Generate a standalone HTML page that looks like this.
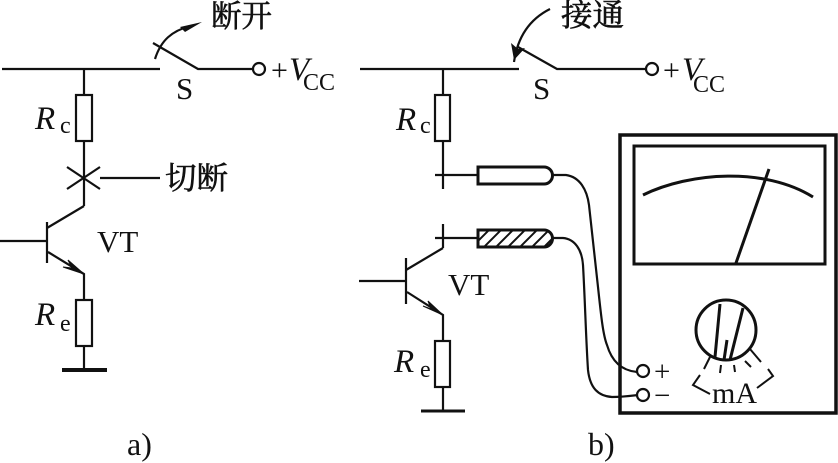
<!DOCTYPE html>
<html><head><meta charset="utf-8"><style>
html,body{margin:0;padding:0;background:#fff;width:838px;height:463px;overflow:hidden}
svg{display:block}
text{font-family:"Liberation Serif","Noto Serif CJK SC",serif;fill:#111}
.i{font-style:italic}
.z{stroke:#111;stroke-width:.6px}
</style></head><body>
<svg width="838" height="463" viewBox="0 0 838 463" xmlns="http://www.w3.org/2000/svg">
<defs><pattern id="h" width="12" height="12" patternUnits="userSpaceOnUse" patternTransform="translate(2 0)"><path d="M-3 12L12 -3M3 18L18 3" stroke="#111" stroke-width="2"/></pattern></defs>
<g fill="none" stroke="#111" stroke-width="2.200">
<!-- a) -->
<path d="M2 69H160M84 69V95M84 141V206M153 43L198 69H253"/>
<rect x="76" y="95" width="16" height="46"/>
<circle cx="259" cy="69" r="6"/>
<path d="M67 167L100 189M67 189L100 167M100 178H160"/>
<path d="M84 206L47 228M47 222V263M0 241H47M48 252L84 274V300"/>
<path d="M84 274L68 260L72 268L63 267Z" fill="#111" stroke-width="1"/>
<rect x="76" y="300" width="16" height="46"/>
<path d="M84 346V370"/>
<path d="M62 370H107" stroke-width="4"/>
<path d="M155 59C161 40 172 31 190 26"/>
<path d="M202 22L180 27L185 32Z" fill="#111" stroke="none"/>
<!-- b) -->
<path d="M360 69H519M443 69V95M443 141V189M435 175H478M518 47L557 69H646"/>
<rect x="435" y="95" width="15" height="46"/>
<circle cx="652" cy="69" r="6"/>
<path d="M550 9C532 18 518 34 514 62"/>
<path d="M514 60L511 43L518 49L525 48Z" fill="#111" stroke="none"/>
<path d="M443 224V248M435 238H478M443 248L406 270M406 258V304M359 281H406M407 292L443 315V341"/>
<path d="M443 315L428 301L431 309L423 306Z" fill="#111" stroke-width="1"/>
<rect x="435" y="341" width="15" height="46"/>
<path d="M443 387V410"/>
<path d="M421 411H465" stroke-width="3"/>
<path d="M478 167H544A8.500 8.500 0 0 1 544 184H478Z" stroke-width="3"/>
<path d="M478 230H544A8.500 8.500 0 0 1 544 247H478Z" stroke-width="3" fill="url(#h)"/>
<path d="M553 175H566C580 177 587 190 589 205L598 287C601 315 603 335 607 345C612 362 622 371 638 372"/>
<path d="M553 238H563C575 239 582 250 583 265C585 300 586 340 588 370C590 388 598 396 612 397C622 397 630 396 638 395"/>
<circle cx="643" cy="371" r="6"/>
<circle cx="643" cy="395" r="6"/>
<rect x="620" y="135" width="216" height="278" stroke-width="3.500"/>
<rect x="634" y="146" width="191" height="118" stroke-width="3"/>
<path d="M643 195C690 172 765 167 813 197" stroke-width="3"/>
<path d="M769 169L736 263" stroke-width="3"/>
<circle cx="726" cy="330" r="30" stroke-width="3"/>
<path d="M720 304L715 357M743 308L730 360" stroke-width="3"/>
<path d="M727 340L724 360" stroke-width="3"/>
<path d="M710 357L704 369M721 365L720 373M734 365L735 372M745 361L751 367M750 349L761 362" stroke-width="2"/>
<path d="M700 375L693 385L710 394M768 369L773 376L757 388" stroke-width="2"/>
</g>
<text class="z" x="211" y="27" font-size="31" textLength="61" lengthAdjust="spacingAndGlyphs">断开</text>
<text class="z" x="165" y="189" font-size="31" textLength="63" lengthAdjust="spacingAndGlyphs">切断</text>
<text class="z" x="561" y="26" font-size="31" textLength="63" lengthAdjust="spacingAndGlyphs">接通</text>
<text x="176" y="99" font-size="31">S</text>
<text x="533" y="99" font-size="31">S</text>
<text x="97" y="252" font-size="31">VT</text>
<text x="448" y="295" font-size="31">VT</text>
<text x="271" y="80" font-size="30">+</text><text x="289" y="80" font-size="33" class="i">V</text><text x="303" y="90" font-size="24">CC</text>
<text x="663" y="80" font-size="30">+</text><text x="682" y="80" font-size="33" class="i">V</text><text x="693" y="92" font-size="24">CC</text>
<text x="35" y="129" font-size="33" class="i">R</text><text x="60" y="133" font-size="24">c</text>
<text x="35" y="325" font-size="33" class="i">R</text><text x="60" y="331" font-size="24">e</text>
<text x="396" y="130" font-size="33" class="i">R</text><text x="420" y="133" font-size="24">c</text>
<text x="394" y="372" font-size="33" class="i">R</text><text x="420" y="377" font-size="24">e</text>
<text x="127" y="455" font-size="32">a)</text>
<text x="588" y="455" font-size="32">b)</text>
<text x="654" y="381" font-size="29">+</text>
<text x="654" y="405" font-size="29">−</text>
<text x="712" y="403" font-size="30">mA</text>
</svg>
</body></html>
